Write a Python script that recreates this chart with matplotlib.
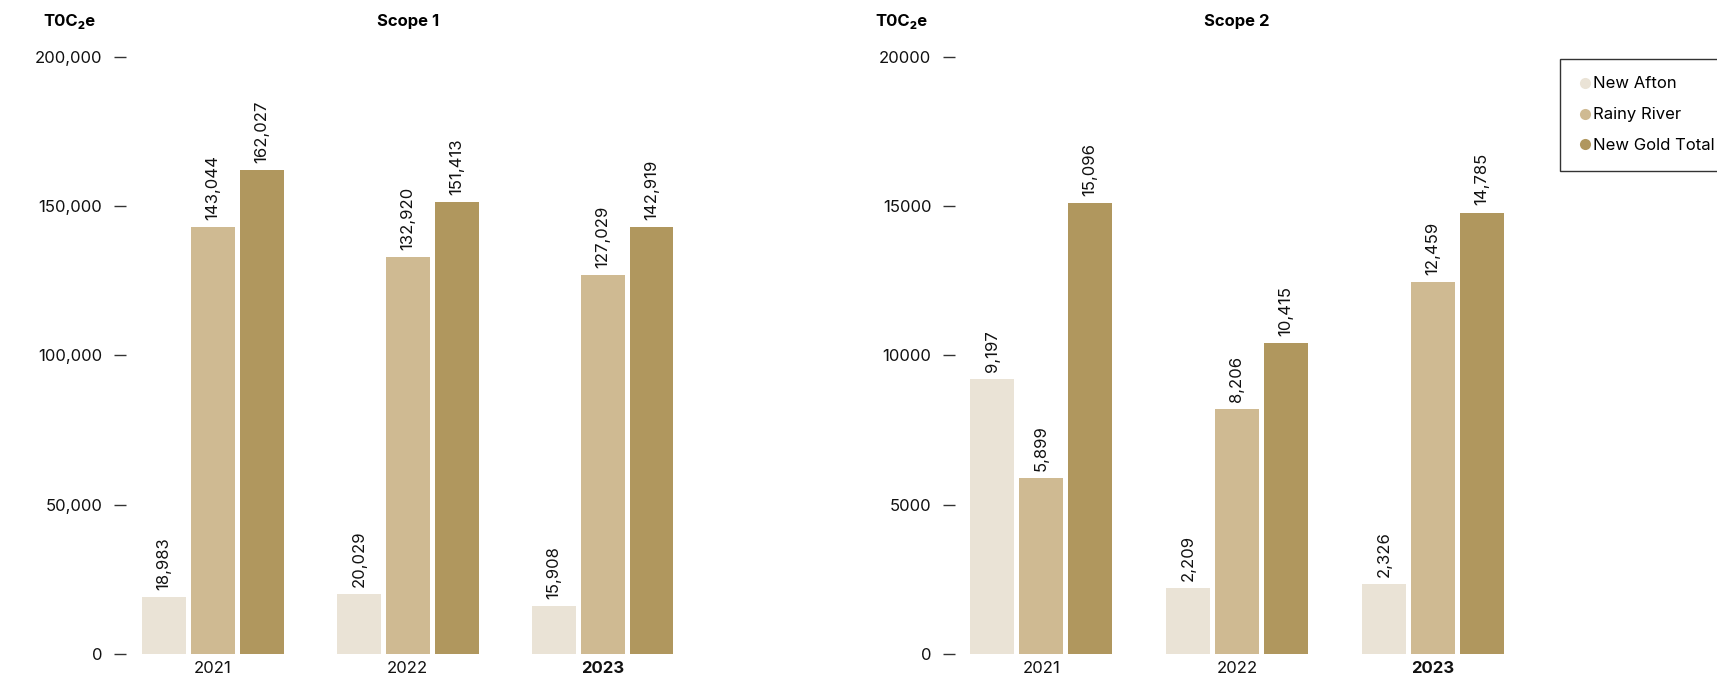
import matplotlib
matplotlib.use("Agg")
import matplotlib.pyplot as plt
from matplotlib.lines import Line2D
import numpy as np

plt.rcParams['font.family'] = ['Inter', 'DejaVu Sans']

years = ["2021", "2022", "2023"]
series = ["New Afton", "Rainy River", "New Gold Total"]
colors = ["#EAE3D6", "#CFBA92", "#B0975E"]

scope1 = {
    "New Afton": [18983, 20029, 15908],
    "Rainy River": [143044, 132920, 127029],
    "New Gold Total": [162027, 151413, 142919],
}
scope2 = {
    "New Afton": [9197, 2209, 2326],
    "Rainy River": [5899, 8206, 12459],
    "New Gold Total": [15096, 10415, 14785],
}
scope1_ticks = [0, 50000, 100000, 150000, 200000]
scope1_ticklabels = ["0", "50,000", "100,000", "150,000", "200,000"]
scope2_ticks = [0, 5000, 10000, 15000, 20000]
scope2_ticklabels = ["0", "5000", "10000", "15000", "20000"]

fig = plt.figure(figsize=(17.17, 6.81), dpi=100)

def draw(ax, data, ticks, ticklabels, title, ymax, xleft, unit_x):
    x = np.arange(len(years))
    width = 0.225
    offsets = [-0.25, 0, 0.25]
    for s, c, off in zip(series, colors, offsets):
        vals = data[s]
        ax.bar(x + off, vals, width=width, color=c, edgecolor='none')
        for xi, v in zip(x, vals):
            ax.text(xi + off, v + ymax * 0.012, f"{v:,}", rotation=90,
                    ha='center', va='bottom', fontsize=12, color='#111111')
    ax.set_xlim(xleft, 2.5)
    ax.set_ylim(0, ymax)
    ax.set_yticks(ticks)
    ax.set_yticklabels(ticklabels, fontsize=12, color='#111111')
    ax.set_xticks(x)
    ax.set_xticklabels(years, fontsize=12, color='#111111')
    ax.get_xticklabels()[2].set_fontweight('bold')
    ax.tick_params(axis='x', length=0, pad=5)
    ax.tick_params(axis='y', length=9, width=1, color='#333333', pad=8, direction='out')
    for sp in ax.spines.values():
        sp.set_visible(False)
    ax.text(1, 1.06, title, transform=ax.get_xaxis_transform(), ha='center', va='center',
            fontsize=12, fontweight='bold')
    ax.text(unit_x, 1.06, "T0C\u2082e", transform=ax.transAxes, ha='left', va='center',
            fontsize=12, fontweight='bold')

ax1 = fig.add_axes([0.0733, 0.0401, 0.3345, 0.8763])
draw(ax1, scope1, scope1_ticks, scope1_ticklabels, "Scope 1", 200000, -0.447, -0.143)
ax2 = fig.add_axes([0.5562, 0.0401, 0.3352, 0.8763])
draw(ax2, scope2, scope2_ticks, scope2_ticklabels, "Scope 2", 20000, -0.441, -0.138)

handles = [Line2D([0], [0], marker='o', linestyle='none', markersize=8,
                  markerfacecolor=c, markeredgecolor='none', label=s)
           for s, c in zip(series, colors)]
leg = fig.legend(handles=handles, loc='upper left', bbox_to_anchor=(1560 / 1717, 1 - 59 / 681),
                 borderaxespad=0,
                 frameon=True, fancybox=False, edgecolor='black', fontsize=12,
                 handletextpad=0.05, labelspacing=0.95, borderpad=1.05, handlelength=0.9)
leg.get_frame().set_linewidth(1)

fig.savefig("out.png", dpi=100)
